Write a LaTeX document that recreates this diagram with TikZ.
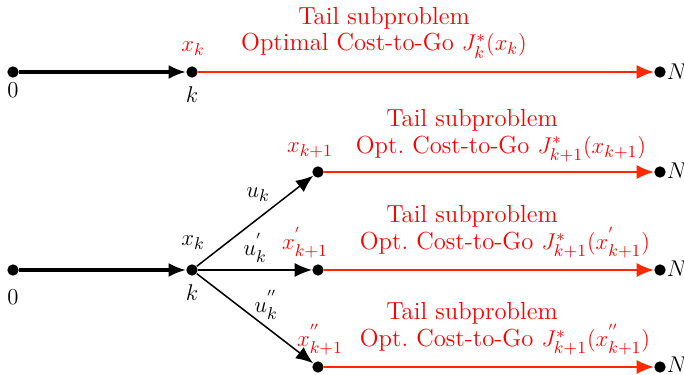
\documentclass[tikz,border=0pt]{standalone}
\usepackage{amsmath,amssymb}
\usepackage{xcolor}
\usepackage{tikz}
\usetikzlibrary{arrows.meta, positioning}
\definecolor{tailRed}{RGB}{255,0,0}
\definecolor{tailLine}{RGB}{255,40,0}
\frenchspacing

\begin{document}
\begin{tikzpicture}[
    x=0.0185cm, y=-0.0185cm,
    every node/.style={font=\fontsize{13}{15}\selectfont},
    dot/.style={circle, fill=black, inner sep=0pt, minimum size=0.21cm},
    lbl/.style={inner sep=0.5pt},
    tail/.style={text=tailRed, align=center, inner sep=0pt},
    fwd/.style={-{Latex[length=3.2mm,width=2.6mm]}, line width=1.6pt, draw=black},
    ctl/.style={-{Latex[length=3.2mm,width=2.6mm]}, line width=0.8pt, draw=black},
    opt/.style={-{Latex[length=3.2mm,width=2.6mm]}, line width=1pt, draw=tailLine}
  ]
    \useasboundingbox (0,0) rectangle (684,375);
    % upper stage chain
    \node[dot] (a0) at (13,72) {};
    \node[dot] (ak) at (192,72) {};
    \node[dot] (aN) at (660,72) {};
    \node[lbl] (a0l) at (13,90) {$0$};
    \node[lbl] (akl) at (192,95) {$k$};
    \node[lbl, text=tailRed] (akx) at (193,49) {$x_k$};
    \node[lbl] (aNl) at (677,72) {$N$};
    \node[tail] (at1) at (384,18) {Tail subproblem};
    \node[tail] (at2) at (384,46) {Optimal Cost-to-Go $J_k^*(x_k)$};
    \draw[fwd] (a0) -- (ak);
    \draw[opt] (ak) -- (aN);

    % lower chain with three controls
    \node[dot] (b0) at (13,270) {};
    \node[dot] (bk) at (192,270) {};
    \node[lbl] (b0l) at (13,297) {$0$};
    \node[lbl] (bkl) at (192,293) {$k$};
    \node[lbl] (bkx) at (193,243) {$x_k$};
    \draw[fwd] (b0) -- (bk);

    \node[dot] (c1) at (318,172) {};
    \node[dot] (c2) at (318,270) {};
    \node[dot] (c3) at (318,367) {};
    \node[dot] (n1) at (660,172) {};
    \node[dot] (n2) at (660,270) {};
    \node[dot] (n3) at (660,367) {};
    \node[lbl] (n1l) at (677,171) {$N$};
    \node[lbl] (n2l) at (677,269) {$N$};
    \node[lbl] (n3l) at (677,365) {$N$};

    \node[lbl] (u1) at (258,195) {$u_k$};
    \node[lbl] (u2) at (255,248) {$u_k^{'}$};
    \node[lbl] (u3) at (266,305) {$u_k^{''}$};
    \node[lbl, text=tailRed] (x1) at (310,150) {$x_{k+1}$};
    \node[lbl, text=tailRed] (x2) at (305,243) {$x_{k+1}^{'}$};
    \node[lbl, text=tailRed] (x3) at (320,340) {$x_{k+1}^{''}$};

    \node[tail] (t1a) at (472,120) {Tail subproblem};
    \node[tail] (t1b) at (501,149) {Opt. Cost-to-Go $J_{k+1}^*(x_{k+1})$};
    \node[tail] (t2a) at (472,216) {Tail subproblem};
    \node[tail] (t2b) at (505,243) {Opt. Cost-to-Go $J_{k+1}^*(x_{k+1}^{'})$};
    \node[tail] (t3a) at (472,313) {Tail subproblem};
    \node[tail] (t3b) at (505,340) {Opt. Cost-to-Go $J_{k+1}^*(x_{k+1}^{''})$};

    \draw[ctl] (bk) -- (c1);
    \draw[ctl] (bk) -- (c2);
    \draw[ctl] (bk) -- (c3);
    \draw[opt] (c1) -- (n1);
    \draw[opt] (c2) -- (n2);
    \draw[opt] (c3) -- (n3);
  \end{tikzpicture}
\end{document}
